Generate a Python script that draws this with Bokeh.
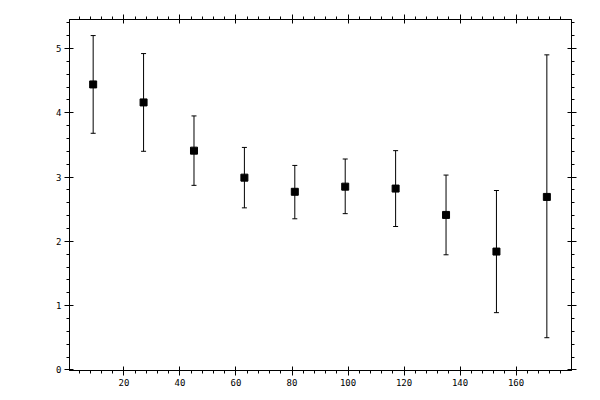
from bokeh.plotting import figure
from bokeh.models import ColumnDataSource, Whisker, TeeHead, LinearAxis, FixedTicker, Range1d
from bokeh.embed import file_html
from bokeh.resources import INLINE

# bin centres and measured means with error limits
x_vals = [9, 27, 45, 63, 81, 99, 117, 135, 153, 171]
y_vals = [4.44, 4.16, 3.41, 2.99, 2.77, 2.85, 2.82, 2.41, 1.84, 2.69]
y_upper = [5.20, 4.92, 3.95, 3.46, 3.18, 3.28, 3.41, 3.03, 2.79, 4.90]
y_lower = [3.68, 3.40, 2.87, 2.52, 2.35, 2.43, 2.23, 1.79, 0.89, 0.50]

x_ticks = [20, 40, 60, 80, 100, 120, 140, 160]
x_minor = [i * 4 for i in range(0, 46)]
y_ticks = [0, 1, 2, 3, 4, 5]
y_minor = [i * 0.2 for i in range(0, 28)]

src = ColumnDataSource(data=dict(x=x_vals, y=y_vals, upper=y_upper, lower=y_lower))

p = figure(width=592, height=392, output_backend="svg", toolbar_location=None, tools="",
           x_range=Range1d(0.55, 179.8), y_range=Range1d(-0.01, 5.45),
           min_border_left=69, min_border_top=19, min_border_right=21, min_border_bottom=22)
p.xgrid.visible = False
p.ygrid.visible = False
p.outline_line_color = "black"
p.outline_line_width = 1
p.background_fill_color = "white"
p.border_fill_color = "white"

p.add_layout(LinearAxis(), "above")
p.add_layout(LinearAxis(), "right")


def style_axis(ax, ticks, minor, labels=True):
    ax.ticker = FixedTicker(ticks=ticks, minor_ticks=minor)
    ax.axis_line_color = "black"
    ax.axis_line_width = 1
    ax.major_tick_line_color = "black"
    ax.minor_tick_line_color = "black"
    ax.major_tick_in = 4
    ax.major_tick_out = 5
    ax.minor_tick_in = 0
    ax.minor_tick_out = 3
    ax.major_label_text_font = "DejaVu Sans Mono"
    ax.major_label_text_font_size = "9px"
    ax.major_label_text_color = "black"
    ax.major_label_standoff = 3
    if not labels:
        # top and right axes carry ticks only
        ax.major_label_overrides = {t: "" for t in ticks}
        ax.major_label_standoff = 0


style_axis(p.below[0], x_ticks, x_minor)
style_axis(p.left[0], y_ticks, y_minor)
style_axis(p.above[0], x_ticks, x_minor, labels=False)
style_axis(p.right[0], y_ticks, y_minor, labels=False)

err = Whisker(source=src, base="x", upper="upper", lower="lower", dimension="height",
              line_color="black", line_width=1,
              upper_head=TeeHead(size=5, line_color="black", line_width=1),
              lower_head=TeeHead(size=5, line_color="black", line_width=1))
p.add_layout(err)

p.scatter("x", "y", source=src, marker="square", size=7, color="black")

open("out.html", "w").write(file_html(p, INLINE))
